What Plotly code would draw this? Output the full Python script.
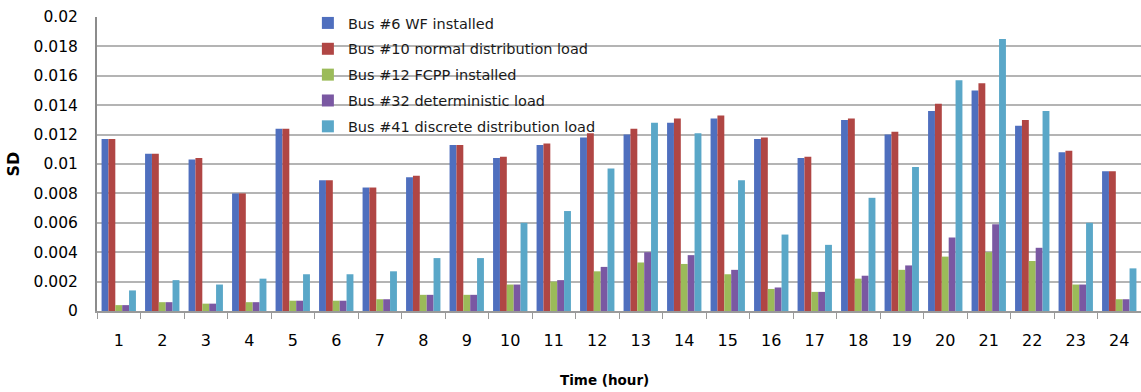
import plotly.graph_objects as go

hours = [str(h) for h in range(1, 25)]

bus6_wf = [0.0117, 0.0107, 0.0103, 0.0080, 0.0124, 0.0089, 0.0084, 0.0091, 0.0113, 0.0104, 0.0113, 0.0118,
           0.0120, 0.0128, 0.0131, 0.0117, 0.0104, 0.0130, 0.0120, 0.0136, 0.0150, 0.0126, 0.0108, 0.0095]
bus10_normal = [0.0117, 0.0107, 0.0104, 0.0080, 0.0124, 0.0089, 0.0084, 0.0092, 0.0113, 0.0105, 0.0114, 0.0121,
                0.0124, 0.0131, 0.0133, 0.0118, 0.0105, 0.0131, 0.0122, 0.0141, 0.0155, 0.0130, 0.0109, 0.0095]
bus12_fcpp = [0.0004, 0.0006, 0.0005, 0.0006, 0.0007, 0.0007, 0.0008, 0.0011, 0.0011, 0.0018, 0.0020, 0.0027,
              0.0033, 0.0032, 0.0025, 0.0015, 0.0013, 0.0022, 0.0028, 0.0037, 0.0040, 0.0034, 0.0018, 0.0008]
bus32_det = [0.0004, 0.0006, 0.0005, 0.0006, 0.0007, 0.0007, 0.0008, 0.0011, 0.0011, 0.0018, 0.0021, 0.0030,
             0.0040, 0.0038, 0.0028, 0.0016, 0.0013, 0.0024, 0.0031, 0.0050, 0.0059, 0.0043, 0.0018, 0.0008]
bus41_discrete = [0.0014, 0.0021, 0.0018, 0.0022, 0.0025, 0.0025, 0.0027, 0.0036, 0.0036, 0.0060, 0.0068, 0.0097,
                  0.0128, 0.0121, 0.0089, 0.0052, 0.0045, 0.0077, 0.0098, 0.0157, 0.0185, 0.0136, 0.0060, 0.0029]

series = [
    ("Bus #6 WF installed", bus6_wf, "#4F6FBE"),
    ("Bus #10 normal distribution load", bus10_normal, "#B04644"),
    ("Bus #12 FCPP installed", bus12_fcpp, "#9BBB59"),
    ("Bus #32 deterministic load", bus32_det, "#7A58A2"),
    ("Bus #41 discrete distribution load", bus41_discrete, "#5AA7C8"),
]

fig = go.Figure()
for name, vals, color in series:
    fig.add_trace(go.Bar(x=hours, y=vals, name=name, legendgroup=name,
                         marker=dict(color=color, line=dict(width=0))))

font = "'DejaVu Sans', sans-serif"
fig.update_layout(
    width=1141, height=392,
    margin=dict(l=97, r=0, t=17, b=81),
    paper_bgcolor="white", plot_bgcolor="white",
    barmode="group", bargap=0.21, bargroupgap=0,
    font=dict(family=font, color="black", size=15),
    showlegend=True,
    legend=dict(x=0.202, y=1.034, xanchor="left", yanchor="top",
                bgcolor="rgba(0,0,0,0)", font=dict(size=14.5, color="#1a1a1a"),
                itemwidth=30, traceorder="grouped", tracegroupgap=4),
    xaxis=dict(type="category", showgrid=False, showline=True, linecolor="#9A9A9A", linewidth=1.5,
               ticks="outside", tickson="boundaries", ticklen=6, tickcolor="#9A9A9A",
               tickfont=dict(size=16, family=font), ticklabelstandoff=14),
    yaxis=dict(range=[0, 0.02], dtick=0.002, tickformat="~g", showgrid=True, gridcolor="#B4B4B4", gridwidth=1.5,
               showline=True, linecolor="#8C8C8C", linewidth=2, zeroline=False,
               tickfont=dict(size=15.5, family=font), ticklabelstandoff=14,
               title=dict(text="<b>SD</b>", font=dict(size=16), standoff=10)),
    annotations=[dict(text="<b>Time (hour)</b>", xref="paper", yref="paper",
                      x=0.486, y=-0.235, xanchor="center", yanchor="middle",
                      showarrow=False, font=dict(size=13.5, family=font))],
)

fig.write_html("out.html")
